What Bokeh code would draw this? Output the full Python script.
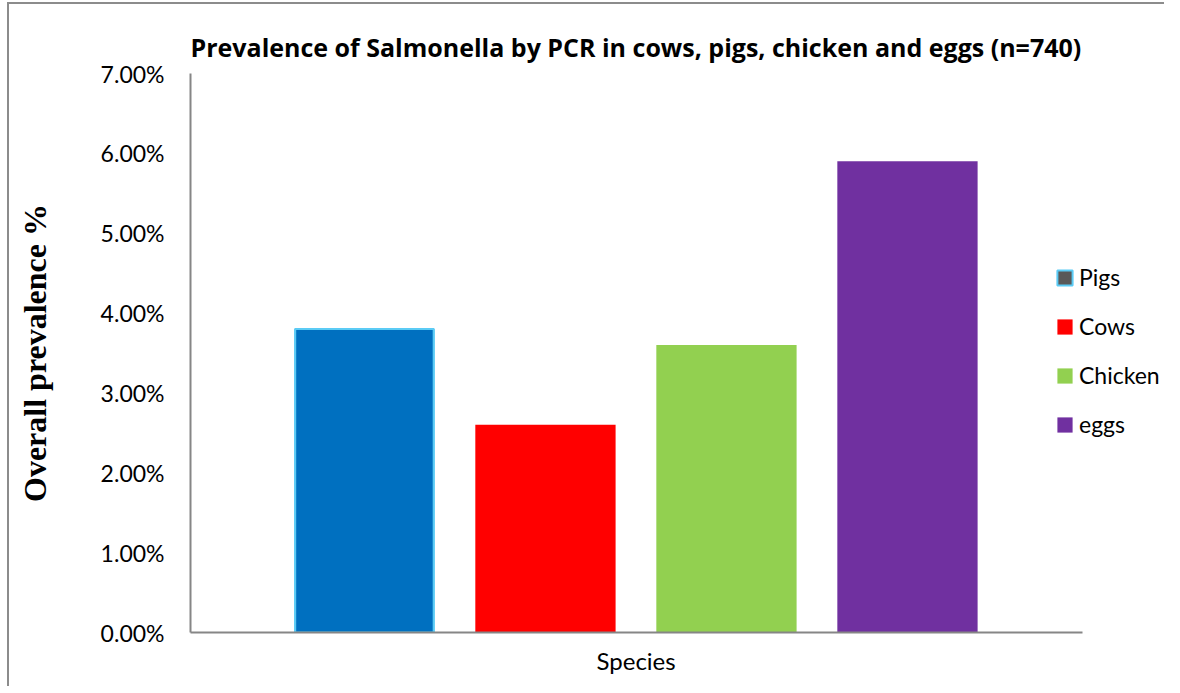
from bokeh.plotting import figure
from bokeh.models import (ColumnDataSource, NumeralTickFormatter, FixedTicker,
                          Legend, LegendItem, Title, InlineStyleSheet)
from bokeh.embed import file_html
from bokeh.resources import INLINE

# ---- data ----
species = ["Pigs", "Cows", "Chicken", "eggs"]
prevalence = [0.038, 0.026, 0.036, 0.059]
bar_colors = ["#0070C0", "#FF0000", "#92D050", "#7030A0"]
y_ticks = [0.0, 0.01, 0.02, 0.03, 0.04, 0.05, 0.06, 0.07]
title_text = "Prevalence of Salmonella by PCR in cows, pigs, chicken and eggs (n=740)"
x_title = "Species"
y_title = "Overall prevalence %"

SANS = "Lato"
AXIS_GRAY = "#868686"

p = figure(frame_width=974, frame_height=559,
           min_border_left=190, min_border_right=0,
           min_border_top=73, min_border_bottom=45,
           x_range=(-0.961, 4.420), y_range=(0, 0.07),
           output_backend="svg", toolbar_location=None,
           title=title_text)

p.title.text_font = "Open Sans"
p.title.text_font_size = "25px"
p.title.text_font_style = "bold"
p.title.text_color = "#000000"
p.title.align = "left"
p.title.standoff = 19

p.outline_line_color = None
p.xgrid.visible = False
p.ygrid.visible = False
p.background_fill_color = "white"
p.border_fill_alpha = 0

# y axis
p.yaxis.ticker = FixedTicker(ticks=y_ticks)
p.yaxis.formatter = NumeralTickFormatter(format="0.00%")
p.yaxis.major_tick_line_color = None
p.yaxis.major_tick_out = 0
p.yaxis.major_tick_in = 0
p.yaxis.minor_tick_line_color = None
p.yaxis.axis_line_color = AXIS_GRAY
p.yaxis.axis_line_width = 2
p.yaxis.major_label_text_font = SANS
p.yaxis.major_label_text_font_size = "23px"
p.yaxis.major_label_text_color = "#000000"
p.yaxis.major_label_standoff = 26
p.yaxis.axis_label = y_title
p.yaxis.axis_label_text_font = "Liberation Serif"
p.yaxis.axis_label_text_font_size = "32px"
p.yaxis.axis_label_text_font_style = "bold"
p.yaxis.axis_label_text_color = "#000000"
p.yaxis.axis_label_standoff = 45

# x axis (line only up to the end of the original plot area)
p.xaxis.ticker = FixedTicker(ticks=[])
p.xaxis.bounds = (-0.961, 3.967)
p.xaxis.major_tick_line_color = None
p.xaxis.major_tick_out = 0
p.xaxis.major_tick_in = 0
p.xaxis.major_label_standoff = 0
p.xaxis.minor_tick_line_color = None
p.xaxis.axis_line_color = AXIS_GRAY
p.xaxis.axis_line_width = 2

# x-axis title, centred under the original plot area
p.add_layout(Title(text=x_title, align="left", offset=406, standoff=23,
                   text_font=SANS, text_font_size="24px",
                   text_font_style="normal", text_color="#000000"), "below")

items = []
for i, (name, val, col) in enumerate(zip(species, prevalence, bar_colors)):
    src = ColumnDataSource(dict(x=[i], top=[val]))
    if name == "Pigs":
        # legend swatch as drawn in the original (grey with cyan border),
        # placed underneath the real bar
        proxy = p.vbar(x="x", top="top", width=0.765, source=src,
                       fill_color="#595959", line_color="#5BCBF5", line_width=2)
        p.vbar(x="x", top="top", width=0.765, source=src,
               fill_color=col, line_color="#5BCBF5", line_width=2)
        items.append(LegendItem(label=name, renderers=[proxy]))
    else:
        r = p.vbar(x="x", top="top", width=0.775, source=src,
                   fill_color=col, line_color=None)
        items.append(LegendItem(label=name, renderers=[r]))

legend = Legend(items=items, location=(865, 194),
                padding=0, margin=0, border_line_color=None,
                background_fill_alpha=0,
                glyph_width=19, glyph_height=19, label_standoff=5,
                spacing=21,
                label_text_font=SANS, label_text_font_size="23px",
                label_text_color="#000000")
p.add_layout(legend, "center")

# chart-area border (only the left and top edges are visible in the original)
p.stylesheets = [InlineStyleSheet(css="""
:host {
  background-color: white;
  background-image: linear-gradient(#8c8c8c,#8c8c8c), linear-gradient(#8c8c8c,#8c8c8c);
  background-size: 2px 2000px, 2000px 2px;
  background-position: 7px 2px, 7px 2px;
  background-repeat: no-repeat, no-repeat;
}
""")]

open("out.html", "w").write(file_html(p, INLINE))
